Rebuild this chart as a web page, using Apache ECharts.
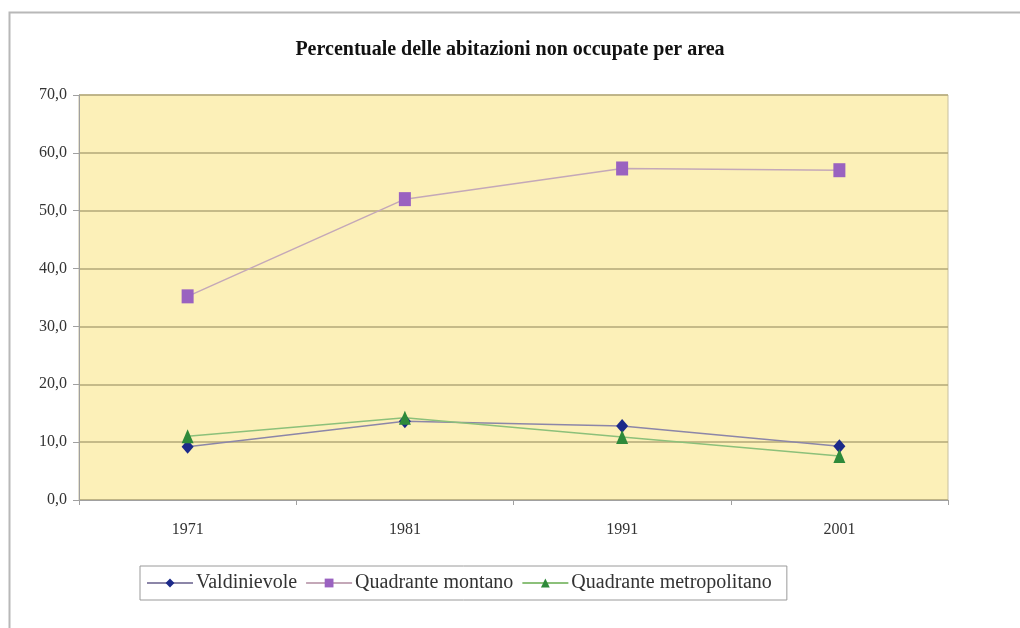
<!DOCTYPE html>
<html>
<head>
<meta charset="utf-8">
<script src="https://cdn.jsdelivr.net/npm/echarts@6/dist/echarts.min.js"></script>
<style>
html,body{margin:0;padding:0;background:#fff;}
#chart{width:1020px;height:628px;}
</style>
</head>
<body>
<div id="chart"></div>
<script>
const years = ['1971', '1981', '1991', '2001'];
const valdinievole = [9.2, 13.6, 12.8, 9.3];
const quadranteMontano = [35.2, 52.0, 57.3, 57.0];
const quadranteMetropolitano = [11.0, 14.2, 10.9, 7.6];
const yTicks = [0, 10, 20, 30, 40, 50, 60, 70];

const serif = '"Liberation Serif", "DejaVu Serif", serif';
const chart = echarts.init(document.getElementById('chart'));
chart.setOption({
  backgroundColor: '#ffffff',
  animation: false,
  graphic: [{
    type: 'rect',
    shape: {x: 9.5, y: 12.5, width: 1040, height: 660},
    style: {fill: 'none', stroke: '#b8b8b8', lineWidth: 2},
    silent: true
  }],
  title: {
    text: 'Percentuale delle abitazioni non occupate per area',
    left: 'center',
    top: 35,
    textStyle: {fontFamily: serif, fontSize: 20, fontWeight: 'bold', color: '#111'}
  },
  legend: {
    left: 140,
    top: 566,
    padding: [7, 15, 7, 6],
    borderColor: '#9a9a9a',
    borderWidth: 1,
    itemWidth: 46,
    itemHeight: 11,
    itemGap: 8,
    textStyle: {fontFamily: serif, fontSize: 20, color: '#333', padding: [0, 0, 0, -2]},
    data: ['Valdinievole', 'Quadrante montano', 'Quadrante metropolitano']
  },
  grid: {left: 79, right: 72, top: 95, bottom: 128, show: true, backgroundColor: '#fcf0b8', borderColor: '#c8c0a0', borderWidth: 1},
  xAxis: {
    type: 'category',
    data: years,
    boundaryGap: true,
    axisLine: {lineStyle: {color: '#a0a0a0', width: 1}},
    axisTick: {show: true, length: 5, lineStyle: {color: '#a0a0a0'}},
    axisLabel: {fontFamily: serif, fontSize: 16, color: '#333', margin: 22}
  },
  yAxis: {
    type: 'value',
    min: yTicks[0],
    max: yTicks[yTicks.length - 1],
    interval: 10,
    axisLine: {show: true, lineStyle: {color: '#a0a0a0'}},
    axisTick: {show: true, length: 6, lineStyle: {color: '#a0a0a0'}},
    axisLabel: {fontFamily: serif, fontSize: 16, color: '#333', margin: 12,
      formatter: v => v.toFixed(1).replace('.', ',')},
    splitLine: {lineStyle: {color: '#b3a878', width: 1.5}}
  },
  series: [
    {
      name: 'Valdinievole', type: 'line', data: valdinievole,
      symbol: 'diamond', symbolSize: [12, 14],
      lineStyle: {color: '#8c86a8', width: 1.5},
      itemStyle: {color: '#1c2a8a'}
    },
    {
      name: 'Quadrante montano', type: 'line', data: quadranteMontano,
      symbol: 'rect', symbolSize: [12, 14],
      lineStyle: {color: '#c4a8b8', width: 1.5},
      itemStyle: {color: '#9a62c0'}
    },
    {
      name: 'Quadrante metropolitano', type: 'line', data: quadranteMetropolitano,
      symbol: 'triangle', symbolSize: [12, 14],
      lineStyle: {color: '#8cc07a', width: 1.5},
      itemStyle: {color: '#2e8a3a'}
    }
  ]
});
</script>
</body>
</html>
